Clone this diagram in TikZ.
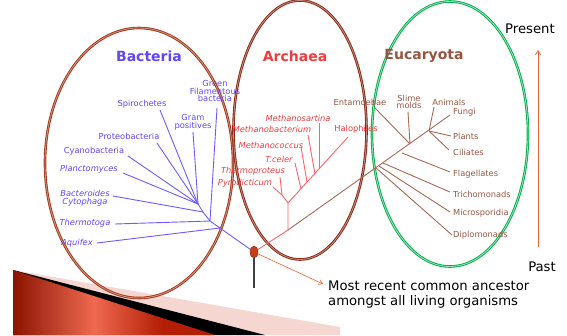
\documentclass[tikz,border=0pt]{standalone}
\usepackage{fontspec}
\setmainfont{DejaVu Sans}
\usetikzlibrary{arrows.meta,shapes.geometric}
\definecolor{bactxt}{RGB}{95,70,250}
\definecolor{bacline}{RGB}{110,90,255}
\definecolor{arctxt}{RGB}{240,60,60}
\definecolor{arcline}{RGB}{255,100,100}
\definecolor{eutxt}{RGB}{150,85,65}
\definecolor{euline}{RGB}{165,105,85}
\definecolor{ellbac}{RGB}{165,55,25}
\definecolor{ellarc}{RGB}{140,40,20}
\definecolor{ellgreen}{RGB}{0,175,75}
\definecolor{wedgedark}{RGB}{140,20,0}
\definecolor{wedgemid}{RGB}{238,105,80}
\definecolor{wedgeright}{RGB}{180,30,5}
\definecolor{wedgepink}{RGB}{246,214,208}
\definecolor{arrorange}{RGB}{230,100,50}
\definecolor{dotfill}{RGB}{195,65,20}
\pgfdeclarehorizontalshading{wedgeshade}{100bp}{color(0bp)=(wedgedark); color(25bp)=(wedgedark); color(45bp)=(wedgemid); color(62bp)=(wedgeright); color(100bp)=(wedgeright)}
\begin{document}
\begin{tikzpicture}[x=1pt,y=-1pt,
  ring/.style={shape=ellipse, inner sep=0pt, line width=0.9pt, double distance=0.8pt},
  ttl/.style={font=\fontsize{14}{16}\selectfont\bfseries, inner sep=0pt},
  lab/.style={font=\fontsize{8.3}{9}\selectfont, inner sep=0pt, align=center},
  ilab/.style={lab, font=\fontsize{8.3}{9}\selectfont\itshape},
  bl/.style={lab, text=bactxt},
  bil/.style={ilab, text=bactxt},
  al/.style={lab, text=arctxt},
  ail/.style={ilab, text=arctxt},
  el/.style={lab, text=eutxt},
  bline/.style={draw=bacline, line width=0.9pt},
  aline/.style={draw=arcline, line width=0.9pt},
  eline/.style={draw=euline, line width=0.9pt},
  big/.style={font=\fontsize{13.2}{15}\selectfont, inner sep=0pt, align=left}
]
\useasboundingbox (0,0) rectangle (567,335);

% bottom-left decoration
\fill[wedgepink] (13,270) -- (340,327) -- (340,335) -- (13,335) -- cycle;
\fill[black] (13,270) -- (265,335) -- (13,335) -- cycle;
\shade[shading=wedgeshade, shading angle=0]
  (13,270) -- (215,335) -- (13,335) -- cycle;

% ellipses
\node[ring, draw=ellbac, double=ellbac!55, minimum width=188pt, minimum height=270pt] (ebac) at (139,163) {};
\node[ring, draw=ellarc, double=ellarc!55, minimum width=133pt, minimum height=259pt] (earc) at (300,130) {};
\node[ring, draw=ellgreen, double=ellgreen!40, minimum width=156pt, minimum height=265pt] (eeuk) at (450,134) {};

% titles
\node[ttl, text=bactxt] (tbac) at (149,56) {Bacteria};
\node[ttl, text=arctxt] (tarc) at (295,56) {Archaea};
\node[ttl, text=eutxt] (teuk) at (424,56) {Eucaryota};

% root
\node[shape=ellipse, fill=dotfill, draw=ellarc, line width=0.4pt, inner sep=0pt, minimum width=8pt, minimum height=12pt] (R) at (254,252) {};
\coordinate (Rb) at (254,258);
\coordinate (Rs) at (254,288);
\draw[line width=1.2pt, draw=black!75] (Rb) -- (Rs);

% ---------- Bacteria ----------
\coordinate (J1) at (220,228);
\coordinate (J2) at (210,221);
\coordinate (J3) at (203,212);
\coordinate (J4) at (198,204);
\coordinate (bAq) at (97,243);
\coordinate (bTh) at (115,224);
\coordinate (bBc) at (113,196);
\coordinate (bPl) at (123,173);
\coordinate (bCy) at (128,156);
\coordinate (bPr) at (157,143);
\coordinate (bSp) at (160,110);
\coordinate (bGp) at (193,132);
\coordinate (bGf) at (217,108);
\draw[bline] (R) -- (J1) -- (J2) -- (J3) -- (J4);
\draw[bline] (J1) -- (bAq);
\draw[bline] (J2) -- (bTh);
\draw[bline] (J2) -- (bGf);
\draw[bline] (J3) -- (bBc);
\draw[bline] (J4) -- (bPl);
\draw[bline] (J4) -- (bCy);
\draw[bline] (J4) -- (bPr);
\draw[bline] (J4) -- (bSp);
\draw[bline] (J4) -- (bGp);

\node[bl] (lGf) at (215,91) {Green\\[-1.2pt]Filamentous\\[-1.2pt]bacteria};
\node[bl] (lGp) at (193,122) {Gram\\[-1.2pt]positives};
\node[bl] (lSp) at (142,104) {Spirochetes};
\node[bl] (lPr) at (129,136) {Proteobacteria};
\node[bl] (lCy) at (94,151) {Cyanobacteria};
\node[bil] (lPl) at (89,169) {Planctomyces};
\node[bil] (lBc) at (85,198) {Bacteroides\\[-1.2pt]Cytophaga};
\node[bil] (lTh) at (85,223) {Thermotoga};
\node[bil] (lAq) at (77,243) {Aquifex};

% ---------- Archaea ----------
\coordinate (A0) at (288,230);
\coordinate (A1) at (288,203);
\coordinate (aHa) at (348,137);
\coordinate (aMs1) at (319,123);
\coordinate (aMs2) at (319,168);
\coordinate (aMb1) at (308,135);
\coordinate (aMb2) at (315,174);
\coordinate (aMc1) at (301,147);
\coordinate (aMc2) at (307,182);
\coordinate (aTc1) at (295,163);
\coordinate (aTc2) at (301,189);
\coordinate (T1) at (282,195);
\coordinate (aTp) at (280,177);
\coordinate (aPy) at (273,187);
\draw[aline] (R) -- (A0) -- (A1) -- (aHa);
\draw[aline] (aMs1) -- (aMs2);
\draw[aline] (aMb1) -- (aMb2);
\draw[aline] (aMc1) -- (aMc2);
\draw[aline] (aTc1) -- (aTc2);
\draw[aline] (A1) -- (T1) -- (aTp);
\draw[aline] (T1) -- (aPy);

\node[ail] (lMs) at (298,118) {Methanosartina};
\node[ail] (lMb) at (272,129) {Methanobacterium};
\node[ail] (lMc) at (271,145) {Methanococcus};
\node[ail] (lTc) at (279,159) {T.celer};
\node[ail] (lTp) at (253,171) {Thermoproteus};
\node[ail] (lPy) at (245,183) {Pyrodicticum};
\node[al] (lHa) at (356,129) {Halophiles};

% ---------- Eucaryota ----------
\coordinate (eF) at (450,115);
\coordinate (eD0) at (376,168);
\coordinate (eM0) at (379,166);
\coordinate (eT0) at (383,163);
\coordinate (eFl0) at (402,153);
\coordinate (eS0) at (410,144);
\coordinate (eA0) at (429,131);
\coordinate (eD) at (452,235);
\coordinate (eM) at (450,212);
\coordinate (eT) at (450,192);
\coordinate (eFl) at (450,172);
\coordinate (eEn) at (375,108);
\coordinate (eSl) at (408,112);
\coordinate (eAn) at (434,107);
\coordinate (ePl) at (451,136);
\coordinate (eCi) at (449,150);
\draw[eline] (A0) -- (eF);
\draw[eline] (eD0) -- (eD);
\draw[eline] (eM0) -- (eM);
\draw[eline] (eT0) -- (eT);
\draw[eline] (eFl0) -- (eFl);
\draw[eline] (eS0) -- (eEn);
\draw[eline] (eS0) -- (eSl);
\draw[eline] (eA0) -- (eAn);
\draw[eline] (eA0) -- (ePl);
\draw[eline] (eA0) -- (eCi);

\node[el] (lEn) at (360,102) {Entamoebae};
\node[el] (lSl) at (409,102) {Slime\\[-1.2pt]molds};
\node[el] (lAn) at (449,102) {Animals};
\node[el, anchor=west] (lFu) at (453,112) {Fungi};
\node[el, anchor=west] (lPl2) at (453,136) {Plants};
\node[el, anchor=west] (lCi) at (453,152) {Ciliates};
\node[el, anchor=west] (lFl) at (453,174) {Flagellates};
\node[el, anchor=west] (lTr) at (453,194) {Trichomonads};
\node[el, anchor=west] (lMi) at (453,213) {Microsporidia};
\node[el, anchor=west] (lDi) at (453,235) {Diplomonads};

% ancestor annotation
\node[big, anchor=north west] (anc) at (328,281) {Most recent common ancestor\\amongst all living organisms};
\coordinate (ancTip) at (323,284);
\draw[arrorange, line width=0.6pt, -{Straight Barb[length=4pt,width=5pt]}] (R) -- (ancTip);

% time axis
\node[big] (pres) at (530,29) {Present};
\node[big] (past) at (542,267) {Past};
\coordinate (tBot) at (538,247);
\coordinate (tTop) at (538,50);
\draw[arrorange, line width=0.8pt, -{Straight Barb[length=4pt,width=5pt]}] (tBot) -- (tTop);
\end{tikzpicture}
\end{document}
